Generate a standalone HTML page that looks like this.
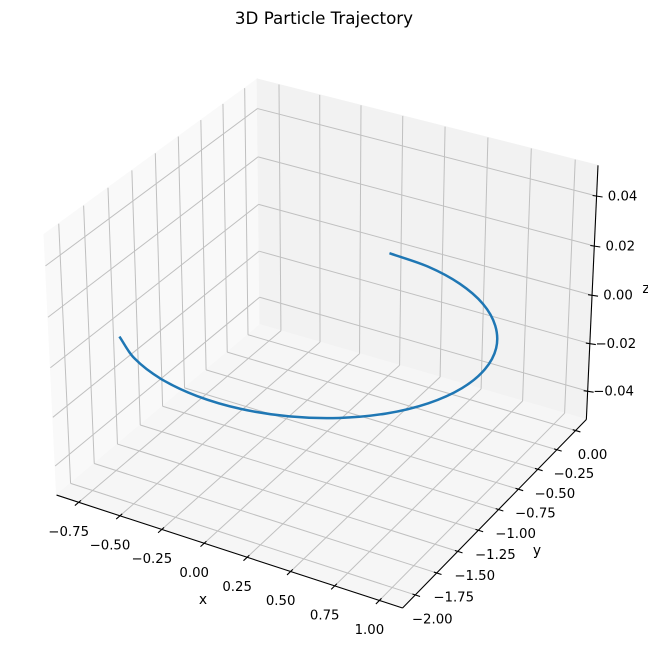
<!DOCTYPE html>
<html><head><meta charset="utf-8"><style>
html,body{margin:0;padding:0;background:#fff;}
svg{display:block;font-family:"DejaVu Sans","Liberation Sans",sans-serif;}
</style></head><body>
<svg id="chart" width="648" height="658" viewBox="0 0 648 658" xmlns="http://www.w3.org/2000/svg">
<text x="324" y="24" text-anchor="middle" font-size="16.7" fill="#000">3D Particle Trajectory</text>
<g id="panes"></g>
<g id="grid"></g>
<g id="series"></g>
<g id="axes"></g>
<text x="203" y="604" text-anchor="middle" font-size="13.9">x</text>
<text x="537" y="555" text-anchor="middle" font-size="13.9">y</text>
<text x="646" y="293" text-anchor="middle" font-size="13.9">z</text>
</svg>
<script>
const xTicks = [-0.75,-0.5,-0.25,0,0.25,0.5,0.75,1.0];
const xTickLabels = ["−0.75","−0.50","−0.25","0.00","0.25","0.50","0.75","1.00"];
const yTicks = [-2,-1.75,-1.5,-1.25,-1,-0.75,-0.5,-0.25,0];
const yTickLabels = ["−2.00","−1.75","−1.50","−1.25","−1.00","−0.75","−0.50","−0.25","0.00"];
const zTicks = [-0.04,-0.02,0,0.02,0.04];
const zTickLabels = ["−0.04","−0.02","0.00","0.02","0.04"];
const xLim = [-0.845, 1.088];
const yLim = [-2.1, 0.1];
const zLim = [-0.05, 0.05];
const trajX = [0,0.247,0.479,0.682,0.841,0.949,0.997,0.984,0.909,0.778,0.598,0.382,0.141,-0.108,-0.351,-0.572,-0.757];
const trajY = [0,-0.031,-0.122,-0.268,-0.460,-0.685,-0.929,-1.178,-1.416,-1.628,-1.801,-1.924,-1.990,-1.994,-1.936,-1.820,-1.654];
const trajZ = [0,0,0,0,0,0,0,0,0,0,0,0,0,0,0,0,0];

const NS="http://www.w3.org/2000/svg";
const n=Math.sqrt(41), f=1.8294640721620434/n;
const asp=[4*f,4*f,3*f];
const U=[0.4330127,-0.75,0.5], V=[0.8660254,0.5,0], W=[-0.25,0.4330127,0.8660254], DIST=10;
function raw(x,y,z){
  const p=[(x-xLim[0])/(xLim[1]-xLim[0])*asp[0]-asp[0]/2,(y-yLim[0])/(yLim[1]-yLim[0])*asp[1]-asp[1]/2,(z-zLim[0])/(zLim[1]-zLim[0])*asp[2]-asp[2]/2];
  const vx=p[0]*V[0]+p[1]*V[1]+p[2]*V[2], vy=p[0]*W[0]+p[1]*W[1]+p[2]*W[2], vz=p[0]*U[0]+p[1]*U[1]+p[2]*U[2]-DIST;
  return [vx/(-vz), vy/(-vz)];
}
function pad(l){const d=(l[1]-l[0])/48;return [l[0]-d,l[1]+d];}
const xP=pad(xLim), yP=pad(yLim), zP=pad(zLim);
const a1=raw(xP[0],yP[0],zP[1]), a2=raw(xP[1],yP[1],zP[1]);
const kx=(598-44)/(a2[0]-a1[0]), ox=44-kx*a1[0];
const b1=raw(xP[0],yP[1],zP[1]), b2=raw(xP[1],yP[0],zP[0]);
const ky=(608-79)/(b1[1]-b2[1]), oy=79+ky*b1[1];
function P(x,y,z){const r=raw(x,y,z);return [ox+kx*r[0], oy-ky*r[1]];}

function mk(tag,attrs,parent){const e=document.createElementNS(NS,tag);for(const k in attrs)e.setAttribute(k,attrs[k]);parent.appendChild(e);return e;}
function poly(pts){return pts.map(p=>p[0].toFixed(2)+","+p[1].toFixed(2)).join(" ");}
function line(g,p,q,col,w){return mk("line",{x1:p[0],y1:p[1],x2:q[0],y2:q[1],stroke:col,"stroke-width":w},g);}

const panes=document.getElementById("panes");
let e;
e=mk("polygon",{points:poly([P(xP[0],yP[0],zP[0]),P(xP[0],yP[1],zP[0]),P(xP[0],yP[1],zP[1]),P(xP[0],yP[0],zP[1])]),fill:"#f9f9f9",stroke:"#f9f9f9"},panes);


e=mk("polygon",{points:poly([P(xP[0],yP[1],zP[0]),P(xP[1],yP[1],zP[0]),P(xP[1],yP[1],zP[1]),P(xP[0],yP[1],zP[1])]),fill:"#f2f2f2",stroke:"#f2f2f2"},panes);


e=mk("polygon",{points:poly([P(xP[0],yP[0],zP[0]),P(xP[1],yP[0],zP[0]),P(xP[1],yP[1],zP[0]),P(xP[0],yP[1],zP[0])]),fill:"#f6f6f6",stroke:"#f6f6f6"},panes);



const grid=document.getElementById("grid"), GC="#c0c0c0", GW=1.0;
xTicks.forEach(t=>{
  e=line(grid,P(t,yP[0],zP[0]),P(t,yP[1],zP[0]),GC,GW);
  
  
  e=line(grid,P(t,yP[1],zP[0]),P(t,yP[1],zP[1]),GC,GW);
  
  
});
yTicks.forEach(t=>{
  e=line(grid,P(xP[0],t,zP[0]),P(xP[1],t,zP[0]),GC,GW);
  
  
  e=line(grid,P(xP[0],t,zP[0]),P(xP[0],t,zP[1]),GC,GW);
  
  
});
zTicks.forEach(t=>{
  e=line(grid,P(xP[0],yP[0],t),P(xP[0],yP[1],t),GC,GW);
  
  
  e=line(grid,P(xP[0],yP[1],t),P(xP[1],yP[1],t),GC,GW);
  
  
});

const series=document.getElementById("series");
const pts=trajX.map((x,i)=>P(x,trajY[i],trajZ[i]));
let d="M"+pts[0][0].toFixed(2)+","+pts[0][1].toFixed(2);
for(let i=0;i<pts.length-1;i++){
  const p1=pts[i],p2=pts[i+1];
  const p0=i>0?pts[i-1]:[2*p1[0]-p2[0],2*p1[1]-p2[1]];
  const p3=i+2<pts.length?pts[i+2]:[2*p2[0]-p1[0],2*p2[1]-p1[1]];
  const c1=[p1[0]+(p2[0]-p0[0])/6,p1[1]+(p2[1]-p0[1])/6], c2=[p2[0]-(p3[0]-p1[0])/6,p2[1]-(p3[1]-p1[1])/6];
  d+=" C"+c1.map(v=>v.toFixed(2)).join(",")+" "+c2.map(v=>v.toFixed(2)).join(",")+" "+p2[0].toFixed(2)+","+p2[1].toFixed(2);
}
e=mk("path",{d:d,fill:"none",stroke:"#1f77b4","stroke-width":2.5,"stroke-linecap":"butt"},series);



const axes=document.getElementById("axes");
function unit(p,q){const dx=q[0]-p[0],dy=q[1]-p[1],l=Math.hypot(dx,dy);return [dx/l,dy/l];}
e=line(axes,P(xP[0],yP[0],zP[0]),P(xP[1],yP[0],zP[0]),"#000",1.1);


e=line(axes,P(xP[1],yP[0],zP[0]),P(xP[1],yP[1],zP[0]),"#000",1.1);


e=line(axes,P(xP[1],yP[1],zP[0]),P(xP[1],yP[1],zP[1]),"#000",1.1);



function label(txt,x,y,name){
  const t=mk("text",{x:x,y:y,"text-anchor":"middle","dominant-baseline":"central","font-size":"13.3",fill:"#000"},axes);
  t.textContent=txt;
  
  
}
xTicks.forEach((t,i)=>{
  const p=P(t,yP[0],zP[0]), dr=unit(P(t,yP[0],zP[0]),P(t,yP[1],zP[0]));
  e=line(axes,[p[0]-dr[0]*5,p[1]-dr[1]*5],[p[0]+dr[0]*3,p[1]+dr[1]*3],"#000",1.1);
  
  
  label(xTickLabels[i],p[0]-10,p[1]+30,'x-tick-label');
});
yTicks.forEach((t,i)=>{
  const p=P(xP[1],t,zP[0]), dr=unit(P(xP[0],t,zP[0]),P(xP[1],t,zP[0]));
  e=line(axes,[p[0]-dr[0]*3,p[1]-dr[1]*3],[p[0]+dr[0]*5,p[1]+dr[1]*5],"#000",1.1);
  
  
  label(yTickLabels[i],p[0]+17,p[1]+25,'y-tick-label');
});
zTicks.forEach((t,i)=>{
  const p=P(xP[1],yP[1],t);
  e=line(axes,[p[0]-4,p[1]-0.5],[p[0]+6,p[1]+1],"#000",1.1);
  
  
  label(zTickLabels[i],p[0]+26,p[1]+1,'z-tick-label');
});
</script>
</body></html>
